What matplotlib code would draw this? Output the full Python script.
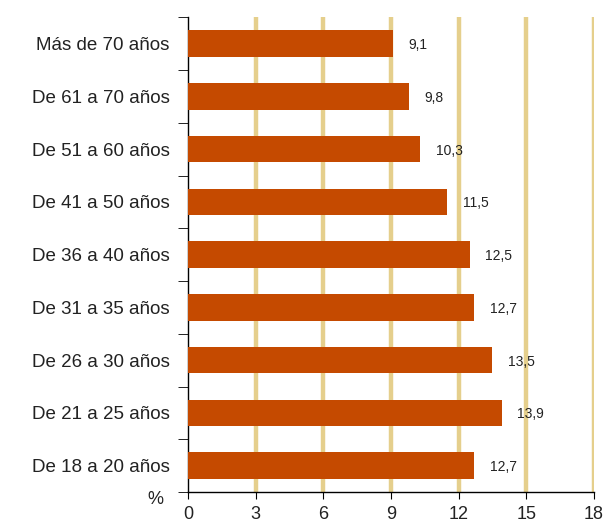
import matplotlib
matplotlib.use("Agg")
import matplotlib.pyplot as plt

plt.rcParams["font.family"] = ["Liberation Sans", "DejaVu Sans"]

# age groups, top to bottom as drawn
groups = [
    "Más de 70 años",
    "De 61 a 70 años",
    "De 51 a 60 años",
    "De 41 a 50 años",
    "De 36 a 40 años",
    "De 31 a 35 años",
    "De 26 a 30 años",
    "De 21 a 25 años",
    "De 18 a 20 años",
]
# percentage per group
values = [9.1, 9.8, 10.3, 11.5, 12.5, 12.7, 13.5, 13.9, 12.7]
xticks = [0, 3, 6, 9, 12, 15, 18]

bar_color = "#C54A00"
grid_color = "#E5CF8C"
text_color = "#222222"

fig = plt.figure(figsize=(6.08, 5.24), dpi=100)
ax = fig.add_axes([0.309, 0.061, 0.668, 0.906])

# reverse so the first group sits on top
ypos = list(range(len(groups)))[::-1]
ax.barh(ypos, values, height=0.5, color=bar_color, zorder=3)

for y, v in zip(ypos, values):
    ax.text(v + 0.68, y - 0.03, f"{v:.1f}".replace(".", ","),
            va="center", ha="left", fontsize=10, color=text_color)

ax.set_xlim(0, 18)
ax.set_ylim(-0.5, len(groups) - 0.5)
ax.set_xticks(xticks)
ax.set_xticklabels([str(t) for t in xticks], fontsize=13, color=text_color)
ax.tick_params(axis="x", length=5, pad=5)

# category labels at bar centres, tick marks at the boundaries
ax.set_yticks(ypos)
ax.set_yticklabels(groups, fontsize=13.5, color=text_color)
ax.tick_params(axis="y", which="major", length=0, pad=13)
ax.set_yticks([i - 0.5 for i in range(len(groups) + 1)], minor=True)
ax.tick_params(axis="y", which="minor", length=7)

for t in xticks[1:]:
    ax.axvline(t, color=grid_color, lw=3.2, zorder=1)

for side in ("top", "right"):
    ax.spines[side].set_visible(False)
ax.spines["left"].set_linewidth(1.0)
ax.spines["bottom"].set_linewidth(1.0)

fig.text(0.255, 0.046, "%", fontsize=13, ha="center", va="center",
         color=text_color)

fig.savefig("out.png", dpi=100)
